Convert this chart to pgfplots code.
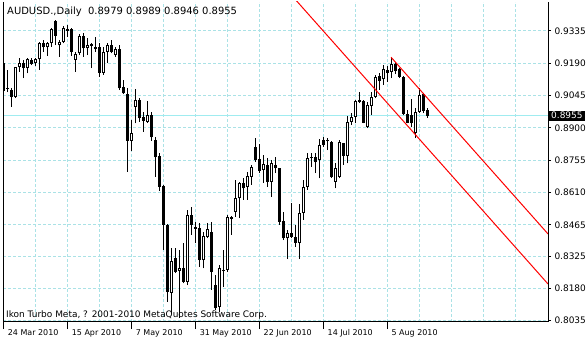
\documentclass[border=0pt]{standalone}
\usepackage{pgfplots}
\usepackage{pgfplotstable}
\pgfplotsset{compat=1.18}
\usepackage{fontspec}
\setmainfont{DejaVu Sans}
\definecolor{gridc}{RGB}{170,226,230}
\definecolor{bidc}{RGB}{160,236,240}
\pgfplotstableread{
x o h l c
0 0.9193 0.9196 0.9066 0.9067
1 0.9079 0.9160 0.9061 0.9075
2 0.9070 0.9079 0.8995 0.9038
5 0.9190 0.9205 0.9123 0.9168
7 0.9205 0.9213 0.9182 0.9186
10 0.9280 0.9295 0.9242 0.9262
13 0.9380 0.9384 0.9272 0.9313
16 0.9344 0.9362 0.9309 0.9336
17 0.9343 0.9347 0.9223 0.9242
20 0.9313 0.9325 0.9220 0.9257
22 0.9275 0.9280 0.9168 0.9268
23 0.9262 0.9307 0.9242 0.9253
24 0.9262 0.9280 0.9130 0.9148
27 0.9272 0.9295 0.9235 0.9242
29 0.9253 0.9272 0.9070 0.9078
30 0.9082 0.9115 0.9052 0.9055
31 0.9051 0.9079 0.8704 0.8843
34 0.9025 0.9034 0.8928 0.8943
35 0.8950 0.8973 0.8883 0.8933
37 0.8958 0.8973 0.8843 0.8858
38 0.8846 0.8861 0.8681 0.8768
39 0.8774 0.8789 0.8618 0.8636
40 0.8640 0.8644 0.8352 0.8465
41 0.8465 0.8469 0.8120 0.8165
43 0.8315 0.8360 0.8249 0.8255
45 0.8270 0.8386 0.8203 0.8210
47 0.8509 0.8547 0.8420 0.8465
48 0.8457 0.8479 0.8382 0.8448
49 0.8450 0.8472 0.8277 0.8307
52 0.8433 0.8478 0.8173 0.8254
53 0.8195 0.8240 0.8083 0.8092
55 0.8263 0.8352 0.8186 0.8258
57 0.8502 0.8505 0.8420 0.8493
60 0.8652 0.8674 0.8577 0.8629
63 0.8813 0.8854 0.8749 0.8756
64 0.8759 0.8828 0.8697 0.8707
66 0.8734 0.8764 0.8636 0.8659
68 0.8734 0.8771 0.8697 0.8719
69 0.8719 0.8721 0.8465 0.8479
70 0.8482 0.8524 0.8397 0.8405
72 0.8430 0.8562 0.8405 0.8412
73 0.8412 0.8465 0.8367 0.8385
77 0.8771 0.8786 0.8726 0.8764
78 0.8768 0.8786 0.8697 0.8747
80 0.8846 0.8858 0.8816 0.8823
81 0.8846 0.8854 0.8801 0.8840
82 0.8838 0.8841 0.8675 0.8679
85 0.8831 0.8834 0.8734 0.8774
89 0.9025 0.9063 0.9011 0.9018
90 0.9022 0.9025 0.8921 0.8924
94 0.9133 0.9148 0.9070 0.9112
96 0.9160 0.9178 0.9108 0.9148
98 0.9187 0.9197 0.9142 0.9157
99 0.9163 0.9168 0.9123 0.9130
100 0.9130 0.9133 0.8958 0.8963
101 0.8963 0.8981 0.8921 0.8924
102 0.8958 0.9029 0.8903 0.8921
105 0.9051 0.9055 0.8966 0.8977
106 0.8979 0.8989 0.8946 0.8955
}\bear
\pgfplotstableread{
x o h l c
3 0.9040 0.9175 0.9034 0.9172
4 0.9172 0.9213 0.9152 0.9190
6 0.9168 0.9215 0.9145 0.9208
8 0.9190 0.9215 0.9178 0.9208
9 0.9208 0.9287 0.9160 0.9280
11 0.9262 0.9287 0.9223 0.9283
12 0.9280 0.9347 0.9265 0.9343
14 0.9271 0.9295 0.9220 0.9286
15 0.9287 0.9357 0.9280 0.9347
18 0.9205 0.9242 0.9152 0.9230
19 0.9235 0.9322 0.9227 0.9313
21 0.9257 0.9302 0.9227 0.9272
25 0.9148 0.9262 0.9138 0.9242
26 0.9242 0.9280 0.9191 0.9272
28 0.9227 0.9265 0.9220 0.9253
32 0.8843 0.8936 0.8798 0.8876
33 0.8995 0.9075 0.8921 0.9025
36 0.8928 0.9021 0.8924 0.8958
42 0.8161 0.8360 0.8065 0.8303
44 0.8259 0.8352 0.8047 0.8272
46 0.8210 0.8532 0.8195 0.8509
50 0.8307 0.8434 0.8270 0.8415
51 0.8412 0.8472 0.8405 0.8445
54 0.8097 0.8285 0.8074 0.8272
56 0.8263 0.8509 0.8254 0.8500
58 0.8524 0.8666 0.8502 0.8584
59 0.8584 0.8659 0.8495 0.8652
61 0.8636 0.8704 0.8577 0.8684
62 0.8681 0.8734 0.8644 0.8723
65 0.8711 0.8779 0.8654 0.8738
67 0.8659 0.8756 0.8592 0.8744
71 0.8405 0.8442 0.8311 0.8427
74 0.8385 0.8559 0.8311 0.8520
75 0.8520 0.8666 0.8487 0.8636
76 0.8636 0.8786 0.8622 0.8767
79 0.8756 0.8849 0.8674 0.8823
83 0.8659 0.8741 0.8629 0.8719
84 0.8681 0.8846 0.8674 0.8838
86 0.8774 0.8954 0.8741 0.8928
87 0.8928 0.8966 0.8913 0.8950
88 0.8950 0.9025 0.8921 0.9022
91 0.8903 0.9018 0.8898 0.9003
92 0.8998 0.9063 0.8958 0.9040
93 0.9040 0.9138 0.9033 0.9130
95 0.9118 0.9182 0.9093 0.9163
97 0.9152 0.9217 0.9123 0.9187
103 0.8879 0.8988 0.8854 0.8973
104 0.8973 0.9078 0.8966 0.9048
}\bull
\begin{document}
\begin{tikzpicture}
\useasboundingbox (0,0) rectangle (586bp,340bp);
\begin{axis}[name=ax, at={(3bp,18bp)}, anchor=south west,
  scale only axis, width=545bp, height=320bp,
  xmin=-0.1, xmax=136.25, ymin=0.80293, ymax=0.94651,
  axis line style={draw=none},
  tick align=outside, xtick pos=bottom, ytick pos=right,
  scaled y ticks=false,
  xtick={0,16,32,48,64,80,96},
  xticklabels={24 Mar 2010,15 Apr 2010,7 May 2010,31 May 2010,22 Jun 2010,14 Jul 2010,5 Aug 2010},
  minor xtick={8,24,40,56,72,88,104,112,120,128},
  ytick={0.8035,0.8180,0.8325,0.8465,0.8610,0.8755,0.8900,0.9045,0.9190,0.9335},
  yticklabels={0.8035,0.8180,0.8325,0.8465,0.8610,0.8755,0.8900,0.9045,0.9190,0.9335},
  grid=both,
  major grid style={draw=gridc, dash pattern=on 3bp off 2bp, line width=1bp},
  minor grid style={draw=gridc, dash pattern=on 3bp off 2bp, line width=1bp},
  minor tick length=0pt, major tick length=3bp,
  xtick style={/pgfplots/major tick length=7bp},
  tick style={black, line width=1bp},
  xticklabel style={font=\fontsize{8}{9}\selectfont, anchor=base west, xshift=1bp, yshift=-10bp},
  yticklabel style={font=\fontsize{9}{10}\selectfont, anchor=west, xshift=0bp},
]
\addplot[bidc, line width=1bp, forget plot] coordinates {(-1,0.8955) (140,0.8955)};
% wicks
\addplot[draw=none, mark=none, forget plot, error bars/.cd, y dir=plus, y explicit, error mark=none,
  error bar style={draw=black, line width=1bp}]
  table[x=x, y=l, y error plus expr=\thisrow{h}-\thisrow{l}] {\bear};
\addplot[draw=none, mark=none, forget plot, error bars/.cd, y dir=plus, y explicit, error mark=none,
  error bar style={draw=black, line width=1bp}]
  table[x=x, y=l, y error plus expr=\thisrow{h}-\thisrow{l}] {\bull};
% bear bodies
\addplot[draw=none, mark=none, forget plot, error bars/.cd, y dir=plus, y explicit, error mark=none,
  error bar style={draw=black, line width=3bp}]
  table[x=x, y=c, y error plus expr=\thisrow{o}-\thisrow{c}] {\bear};
% bull bodies
\addplot[draw=none, mark=none, forget plot, error bars/.cd, y dir=plus, y explicit, error mark=none,
  error bar style={draw=black, line width=3bp}]
  table[x=x, y=o, y error plus expr=\thisrow{c}-\thisrow{o}] {\bull};
\addplot[draw=none, mark=none, forget plot, error bars/.cd, y dir=plus, y explicit, error mark=none,
  error bar style={draw=white, line width=1bp}]
  table[x=x, y expr=\thisrow{o}+0.00045, y error plus expr=\thisrow{c}-\thisrow{o}-0.0009] {\bull};
% channel
\addplot[red, line width=1bp, forget plot] coordinates {(97,0.9217) (136.25,0.84245)};
\addplot[red, line width=1bp, forget plot] coordinates {(73.3,0.9471) (136.25,0.8200)};
\coordinate (bidpt) at (axis cs:136.25,0.8955);
\end{axis}
\draw[line width=1bp, black] (ax.north west) -- (ax.south west) -- (ax.south east) -- (ax.north east);
\node[anchor=base west, inner sep=0pt, font=\fontsize{10}{11}\selectfont] at ([xshift=4bp, yshift=-13bp]ax.north west)
  {AUDUSD.,Daily\ \ 0.8979 0.8989 0.8946 0.8955};
\node[anchor=base west, inner sep=0pt, font=\fontsize{9}{10}\selectfont] at ([xshift=3bp, yshift=5bp]ax.south west)
  {Ikon Turbo Meta, ? 2001-2010 MetaQuotes Software Corp.};
\node[anchor=west, fill=black, text=white, inner xsep=2bp, inner ysep=1.5bp, font=\fontsize{9}{10}\selectfont]
  at ([xshift=1bp]bidpt) {0.8955};
\end{tikzpicture}
\end{document}
